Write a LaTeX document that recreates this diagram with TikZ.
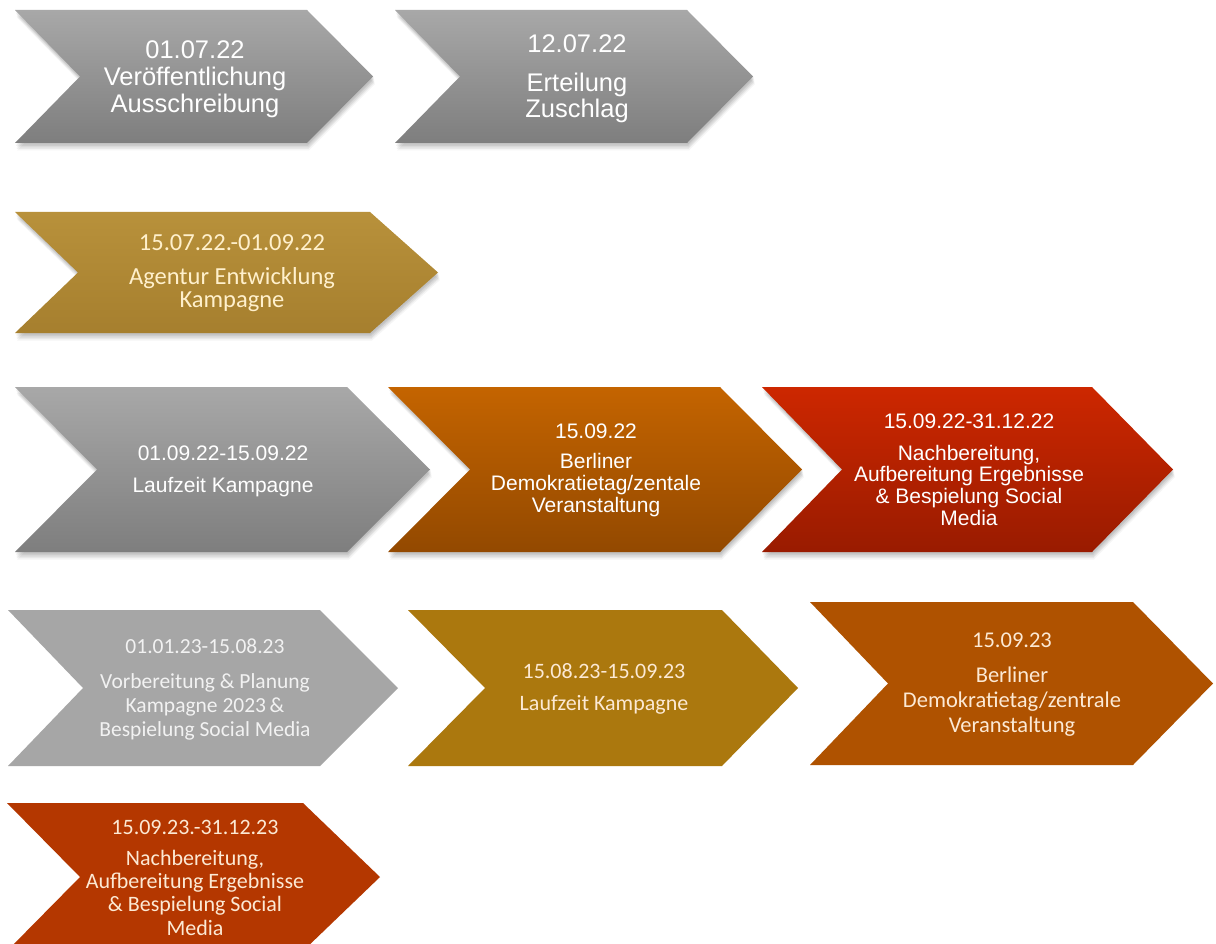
\documentclass[tikz,border=0pt]{standalone}
\usepackage{fontspec}
\setmainfont{Liberation Sans}
\newfontfamily\carlito{Carlito}
\definecolor{gtop}{HTML}{A8A8A8}
\definecolor{gbot}{HTML}{7E7E7E}
\definecolor{goldtop}{HTML}{B8913B}
\definecolor{goldbot}{HTML}{A67F2E}
\definecolor{ortop}{HTML}{C46400}
\definecolor{orbot}{HTML}{934900}
\definecolor{redtop}{HTML}{CD2700}
\definecolor{redbot}{HTML}{991B00}
\definecolor{lgray}{HTML}{A6A6A6}
\definecolor{gold2}{HTML}{AB780E}
\definecolor{brown2}{HTML}{AF5200}
\definecolor{rust2}{HTML}{B43700}
\definecolor{cream}{HTML}{FFF0CC}
\definecolor{cream2}{HTML}{FCE9D4}
\definecolor{offwhite}{HTML}{F2F2F2}
\newcommand\chevshape[7]{%
  \path[#1] (#2,#3) -- (#5,#3) -- (#6,{(#3+#7)/2}) -- (#5,#7) -- (#2,#7) -- (#4,{(#3+#7)/2}) -- cycle;}
\tikzset{
  softshadow/.style={
    preaction={fill=black,opacity=0.06,transform canvas={xshift=1pt,yshift=-1.5pt}},
    preaction={fill=black,opacity=0.06,transform canvas={xshift=1pt,yshift=-3pt}},
    preaction={fill=black,opacity=0.06,transform canvas={xshift=1.5pt,yshift=-4.5pt}},
    preaction={fill=black,opacity=0.05,transform canvas={xshift=1.5pt,yshift=-6pt}},
    preaction={fill=black,opacity=0.04,transform canvas={xshift=2pt,yshift=-7.5pt}}},
  graychev/.style={softshadow,top color=gtop,bottom color=gbot},
  goldchev/.style={softshadow,top color=goldtop,bottom color=goldbot},
  orchev/.style={softshadow,top color=ortop,bottom color=orbot},
  redchev/.style={softshadow,top color=redtop,bottom color=redbot},
  sanstxt/.style={text=white,align=center,inner sep=0pt},
  calitxt/.style={align=center,inner sep=0pt},
}
\begin{document}
\begin{tikzpicture}[x=1pt,y=-1pt]
\useasboundingbox[fill=white] (0,0) rectangle (1216,944);
\clip (0,0) rectangle (1216,944);
% row 1
\chevshape{graychev}{15}{10}{80}{307}{373}{143}
\chevshape{graychev}{395}{10}{460}{687}{753}{143}
% row 2
\chevshape{goldchev}{15}{212}{78}{370}{438}{333}
% row 3
\chevshape{graychev}{15}{387}{97}{347}{430}{552}
\chevshape{orchev}{388}{387}{470}{720}{802}{552}
\chevshape{redchev}{762}{387}{842}{1092}{1173}{552}
% row 4
\chevshape{fill=lgray}{8}{610}{83}{320}{398}{766}
\chevshape{fill=gold2}{408}{610}{485}{722}{798}{766}
\chevshape{fill=brown2}{810}{602}{888}{1133}{1213}{765}
% row 5
\chevshape{fill=rust2}{7}{803}{80}{303}{380}{951}

\node[sanstxt,font=\fontsize{25.5}{27}\selectfont] (t1) at (195,79)
  {01.07.22\\Veröffentlichung\\Ausschreibung};
\node[sanstxt,font=\fontsize{25.5}{26}\selectfont] (t2) at (577,78.5)
  {12.07.22\\[13pt]Erteilung\\Zuschlag};
\node[calitxt,text=cream,font=\carlito\fontsize{24.5}{23.5}\selectfont] (t3) at (232,273)
  {15.07.22.-01.09.22\\[10.5pt]Agentur Entwicklung\\Kampagne};
\node[sanstxt,font=\fontsize{21}{24}\selectfont] (t4) at (223,471)
  {01.09.22-15.09.22\\[8pt]Laufzeit Kampagne};
\node[sanstxt,font=\fontsize{21}{22}\selectfont] (t5) at (596,470)
  {15.09.22\\[8pt]Berliner\\Demokratietag/zentale\\Veranstaltung};
\node[sanstxt,font=\fontsize{21}{21.7}\selectfont] (t6) at (969,469.5)
  {15.09.22-31.12.22\\[10pt]Nachbereitung,\\Aufbereitung Ergebnisse\\\& Bespielung Social\\Media};
\node[calitxt,text=offwhite,font=\carlito\fontsize{21.5}{24}\selectfont] (t7) at (205,689)
  {01.01.23-15.08.23\\[11pt]Vorbereitung \& Planung\\Kampagne 2023\,\&\\Bespielung Social Media};
\node[calitxt,text=cream2,font=\carlito\fontsize{22}{24}\selectfont] (t8) at (604,688.5)
  {15.08.23-15.09.23\\[8pt]Laufzeit Kampagne};
\node[calitxt,text=cream2,font=\carlito\fontsize{22.5}{25}\selectfont] (t9) at (1012,685)
  {15.09.23\\[10pt]Berliner\\Demokratietag/zentrale\\Veranstaltung};
\node[calitxt,text=cream2,font=\carlito\fontsize{22}{23.3}\selectfont] (t10) at (195,878)
  {15.09.23.-31.12.23\\[7pt]Nachbereitung,\\Aufbereitung Ergebnisse\\\& Bespielung Social\\Media};
\end{tikzpicture}
\end{document}
